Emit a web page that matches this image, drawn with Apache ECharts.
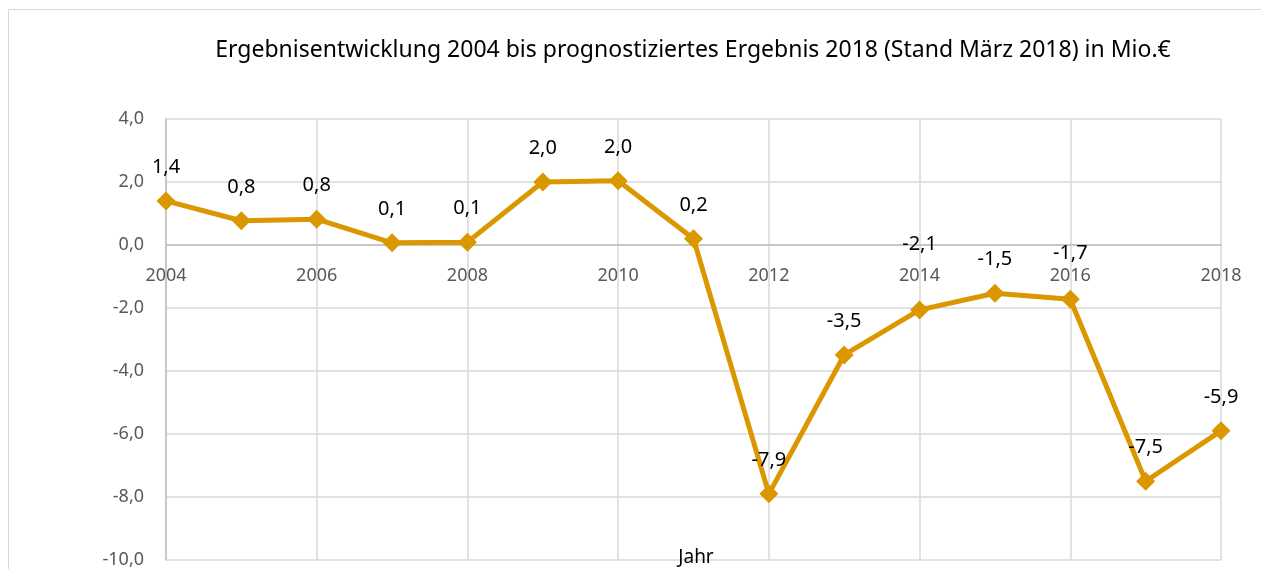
<!DOCTYPE html>
<html>
<head>
<meta charset="utf-8">
<script src="https://cdn.jsdelivr.net/npm/echarts@6/dist/echarts.min.js"></script>
<style>
  html, body { margin: 0; padding: 0; background: #fff; }
  #chart { width: 1261px; height: 569px; }
</style>
</head>
<body>
<div id="chart"></div>
<script>
var years = [2004, 2005, 2006, 2007, 2008, 2009, 2010, 2011, 2012, 2013, 2014, 2015, 2016, 2017, 2018];
var ergebnis = [1.4, 0.77, 0.82, 0.07, 0.09, 2.0, 2.04, 0.2, -7.9, -3.49, -2.06, -1.53, -1.72, -7.5, -5.9];
var yMin = -10, yMax = 4, yStep = 2;
var xStep = 2;

var chart = echarts.init(document.getElementById('chart'));

var fontFam = '"Noto Sans", sans-serif';
// labels that Excel pushed up to dodge the year labels
var labelLift = { 2014: 32, 2016: 12 };
var points = [];
for (var i = 0; i < years.length; i++) {
    var item = { value: [years[i], ergebnis[i]] };
    if (labelLift[years[i]]) {
        item.label = { distance: 14 + labelLift[years[i]] };
    }
    points.push(item);
}

var option = {
    backgroundColor: '#fff',
    animation: false,
    title: [{
        text: 'Ergebnisentwicklung 2004 bis prognostiziertes Ergebnis 2018 (Stand März 2018) in Mio.€',
        left: 688,
        textAlign: 'center',
        top: 34,
        textStyle: {
            fontFamily: fontFam,
            fontWeight: 'normal',
            fontSize: 23,
            color: '#000'
        }
    }, {
        text: 'Jahr',
        left: 691,
        textAlign: 'center',
        top: 543,
        textStyle: {
            fontFamily: fontFam,
            fontWeight: 'normal',
            fontSize: 19,
            color: '#000'
        }
    }],
    graphic: [{
        type: 'rect',
        shape: { x: 8.5, y: 9.5, width: 1400, height: 700 },
        style: { fill: null, stroke: '#d9d9d9', lineWidth: 1 },
        silent: true
    }],
    grid: [{
        left: 166,
        right: 40,
        top: 119,
        bottom: 9,
        containLabel: false,
        outerBoundsMode: 'none'
    }, {
        left: 166,
        right: 40,
        top: 119,
        bottom: 324,
        containLabel: false,
        outerBoundsMode: 'none'
    }],
    xAxis: [{
        type: 'value',
        min: years[0],
        max: years[years.length - 1],
        interval: xStep,
        axisLine: { show: false, onZero: false },
        axisTick: { show: false },
        axisLabel: { show: false },
        splitLine: {
            show: true,
            lineStyle: { color: '#d9d9d9', width: 1.5 }
        }
    }, {
        type: 'value',
        gridIndex: 1,
        min: years[0],
        max: years[years.length - 1],
        interval: xStep,
        axisLine: {
            onZero: false,
            lineStyle: { color: '#bfbfbf', width: 1.5 }
        },
        axisTick: { show: false },
        axisLabel: {
            margin: 22,
            fontFamily: fontFam,
            fontSize: 18,
            color: '#595959',
            formatter: function (v) { return String(v); }
        },
        splitLine: { show: false }
    }],
    yAxis: [{
        type: 'value',
        min: yMin,
        max: yMax,
        interval: yStep,
        axisLine: { show: true, lineStyle: { color: '#bfbfbf', width: 1.5 } },
        axisTick: { show: false },
        axisLabel: {
            margin: 22,
            fontFamily: fontFam,
            fontSize: 18,
            color: '#595959',
            formatter: function (v) { return v.toFixed(1).replace('.', ','); }
        },
        splitLine: {
            show: true,
            lineStyle: { color: '#d9d9d9', width: 1.5 }
        }
    }, {
        type: 'value',
        gridIndex: 1,
        min: 0,
        max: yMax,
        show: false
    }],
    series: [{
        name: 'Ergebnis',
        type: 'line',
        data: points,
        symbol: 'diamond',
        symbolSize: 19,
        lineStyle: { color: '#da9700', width: 5 },
        itemStyle: { color: '#da9700' },
        label: {
            show: true,
            position: 'top',
            distance: 14,
            fontFamily: fontFam,
            fontSize: 20,
            color: '#000',
            formatter: function (p) { return p.value[1].toFixed(1).replace('.', ','); }
        },
        z: 5
    }]
};

chart.setOption(option);
</script>
</body>
</html>
